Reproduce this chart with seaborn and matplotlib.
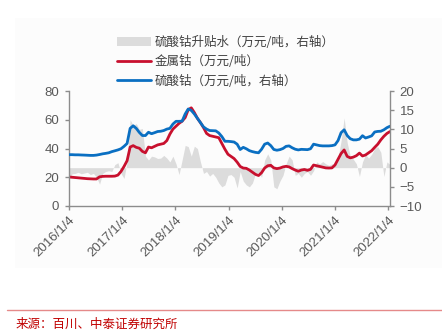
import matplotlib
matplotlib.use("Agg")
import matplotlib.pyplot as plt
from matplotlib.lines import Line2D
from matplotlib.patches import Patch, Rectangle
import pandas as pd
import seaborn as sns

# 三周频率日期
dates = pd.date_range("2016-01-04", periods=106, freq="21D")

# 金属钴（万元/吨，左轴）
cobalt_metal = [
    20.2, 20.0, 19.8, 19.6, 19.4, 19.2, 19.0, 18.9, 18.8, 18.8,
    20.3, 20.6, 20.7, 20.7, 20.7, 20.8, 21.5, 24.0, 27.5, 31.5,
    41.0, 42.0, 40.8, 40.2, 38.0, 37.0, 41.0, 40.5, 41.5, 42.5,
    43.0, 43.5, 45.5, 50.0, 53.5, 55.5, 57.5, 59.0, 61.5, 67.0,
    68.3, 65.0, 61.0, 58.0, 54.5, 50.5, 49.0, 48.5, 48.0, 47.5,
    43.5, 39.5, 36.0, 34.5, 33.0, 30.5, 27.5, 26.4, 26.2, 25.0,
    23.5, 22.0, 21.2, 23.2, 26.4, 28.0, 28.3, 26.5, 26.0, 26.4,
    27.2, 27.6, 27.2, 26.0, 25.0, 24.2, 25.0, 25.4, 24.8, 25.5,
    28.5, 28.0, 27.5, 27.0, 26.5, 26.4, 26.5, 28.5, 32.5, 36.5,
    39.0, 34.5, 33.5, 34.0, 35.0, 36.8, 34.8, 35.5, 37.0, 38.5,
    40.8, 43.0, 46.0, 48.5, 50.5, 51.8,
]

# 硫酸钴（万元/吨，右轴）
cobalt_sulfate = [
    3.39, 3.39, 3.35, 3.35, 3.31, 3.28, 3.24, 3.20, 3.20, 3.28,
    3.43, 3.61, 3.73, 3.88, 4.18, 4.40, 4.63, 4.93, 5.56, 6.31,
    10.25, 10.93, 10.25, 9.20, 8.38, 8.38, 9.24, 8.86, 9.13, 9.43,
    9.50, 9.69, 10.06, 10.25, 11.38, 12.09, 12.09, 12.13, 14.00, 15.31,
    14.94, 14.00, 12.88, 11.75, 10.63, 10.06, 9.69, 9.65, 9.61, 9.05,
    8.11, 6.88, 6.88, 6.80, 6.69, 6.13, 4.74, 5.30, 4.93, 4.44,
    4.18, 3.99, 3.88, 4.81, 6.13, 6.43, 5.75, 4.74, 4.55, 4.70,
    5.00, 5.56, 5.68, 5.19, 4.81, 4.63, 4.78, 4.74, 4.70, 4.93,
    6.13, 5.94, 5.75, 5.68, 5.68, 5.68, 5.75, 5.94, 7.06, 9.13,
    9.88, 8.38, 7.55, 7.25, 7.25, 7.44, 8.34, 7.74, 8.00, 8.30,
    9.31, 9.46, 9.50, 9.88, 10.44, 10.81,
]

# 硫酸钴升贴水（万元/吨，右轴）
sulfate_premium = [
    -3.0, -1.6, -1.5, -1.2, -1.6, -1.4, -1.2, -1.8, -1.5, -2.5,
    -4.3, -1.5, -1.0, -0.8, -1.0, 0.8, 1.3, -1.5, -2.8, 1.5,
    12.5, 11.0, 11.5, 10.0, 10.2, 3.0, 2.0, 3.0, 2.8, 2.4,
    2.5, 3.2, 2.5, 1.5, 3.0, 1.0, -1.8, 2.0, 5.8, 5.5,
    3.0, 5.6, 5.0, 1.5, -1.5, -1.0, -2.2, -1.5, -2.5, -4.0,
    -5.0, -4.5, -2.0, -1.8, -2.5, -5.3, -1.0, -3.5, -4.5, -5.0,
    -4.0, -1.5, -1.2, -2.5, 2.0, 3.6, 2.0, -5.0, -5.5, -3.5,
    -2.0, 1.0, 3.0, 2.0, -2.0, -1.5, -2.5, -1.5, -1.0, -2.0,
    -0.8, 1.5, 1.0, 1.6, 1.0, 0.6, 1.0, 0.8, 2.5, 7.0,
    13.0, 6.5, 3.0, 2.2, 1.0, -2.3, 1.5, 3.4, 2.5, 3.5,
    5.0, 5.5, 4.0, -2.3, 1.5, 0.8,
]

tick_dates = pd.to_datetime([f"{y}-01-04" for y in range(2016, 2023)])
tick_labels = [f"{y}/1/4" for y in range(2016, 2023)]
left_ticks = [0, 20, 40, 60, 80]
right_ticks = [-10, -5, 0, 5, 10, 15, 20]

labels = ["硫酸钴升贴水（万元/吨，右轴）", "金属钴（万元/吨）", "硫酸钴（万元/吨，右轴）"]

df = pd.DataFrame({
    "date": dates,
    "metal": cobalt_metal,
    "sulfate": cobalt_sulfate,
    "premium": sulfate_premium,
})

sns.set_theme(style="white")
plt.rcParams["font.family"] = ["Liberation Sans", "Noto Sans CJK SC", "DejaVu Sans"]

RED = "#C8102E"
BLUE = "#0A6FC2"
GREY = "#DCDCDC"
AXIS = "#8C8C8C"
TXT = "#595959"

W, H = 442, 335
fig = plt.figure(figsize=(W / 100, H / 100), dpi=100)
fig.patch.set_facecolor("white")

# faint panel behind the chart
fig.add_artist(Rectangle((15 / W, 1 - 268 / H), (W - 15) / W, 250 / H,
                         transform=fig.transFigure, facecolor="#FCFCFC",
                         edgecolor="none", zorder=-10))

ax = fig.add_axes([69 / W, 1 - 206 / H, 321 / W, 115 / H])
ax_fill = ax.twinx()
ax_blue = ax.twinx()

# stacking: premium area at the bottom, metal line, sulfate line on top
ax_fill.set_zorder(1)
ax.set_zorder(2)
ax_blue.set_zorder(3)
for a in (ax, ax_fill, ax_blue):
    a.patch.set_visible(False)

ax_fill.fill_between(df["date"], 0, df["premium"], color=GREY, linewidth=0)
sns.lineplot(data=df, x="date", y="metal", ax=ax, color=RED, linewidth=2.0)
sns.lineplot(data=df, x="date", y="sulfate", ax=ax_blue, color=BLUE, linewidth=2.0)

xmin, xmax = pd.Timestamp("2016-01-04"), pd.Timestamp("2022-01-17")
for a in (ax, ax_fill, ax_blue):
    a.set_xlim(xmin, xmax)
    a.set_xlabel("")
    a.set_ylabel("")
    a.grid(False)

ax.set_ylim(0, 80)
ax.set_yticks(left_ticks)
ax_fill.set_ylim(-10, 20)
ax_blue.set_ylim(-10, 20)
ax_blue.set_yticks(right_ticks)
ax_fill.set_yticks([])
ax_fill.tick_params(right=False, labelright=False)

ax.set_xticks(tick_dates)
ax.set_xticklabels(tick_labels, rotation=45, ha="right", rotation_mode="anchor")

for a in (ax, ax_fill, ax_blue):
    for s in a.spines.values():
        s.set_visible(False)
ax.spines["left"].set_visible(True)
ax.spines["bottom"].set_visible(True)
ax_blue.spines["right"].set_visible(True)
for s in (ax.spines["left"], ax.spines["bottom"], ax_blue.spines["right"]):
    s.set_color(AXIS)
    s.set_linewidth(1.0)

ax.tick_params(axis="y", left=True, direction="out", length=3, width=1,
               color=AXIS, labelcolor=TXT, labelsize=9.5, pad=4)
ax.tick_params(axis="x", bottom=True, direction="out", length=3, width=1,
               color=AXIS, labelcolor=TXT, labelsize=9.5, pad=3)
ax_blue.tick_params(axis="y", right=True, direction="out", length=3, width=1,
                    color=AXIS, labelcolor=TXT, labelsize=9.5, pad=4)
ax_blue.tick_params(axis="x", bottom=False, labelbottom=False)
ax_fill.tick_params(axis="x", bottom=False, labelbottom=False)

handles = [
    Patch(facecolor=GREY, edgecolor="none"),
    Line2D([], [], color=RED, linewidth=2.0),
    Line2D([], [], color=BLUE, linewidth=2.0),
]
leg = fig.legend(handles, labels, loc="upper left",
                 bbox_to_anchor=(117 / W, 1 - 36 / H), frameon=False,
                 prop={"family": ["Noto Sans CJK SC"], "size": 9},
                 handlelength=2.7, handleheight=0.65, handletextpad=0.3,
                 labelspacing=0.5, borderaxespad=0, borderpad=0)
for t in leg.get_texts():
    t.set_color("#404040")

# source note
fig.add_artist(Line2D([7 / W, 1.0], [1 - 310 / H, 1 - 310 / H],
                      transform=fig.transFigure, color="#E58A8A", linewidth=1.0))
fig.text(16 / W, 1 - 324 / H, "来源：百川、中泰证券研究所", color="#C00000",
         fontsize=9, family=["Noto Sans CJK SC"], va="center", ha="left")

fig.savefig("out.png", dpi=100, facecolor="white")
